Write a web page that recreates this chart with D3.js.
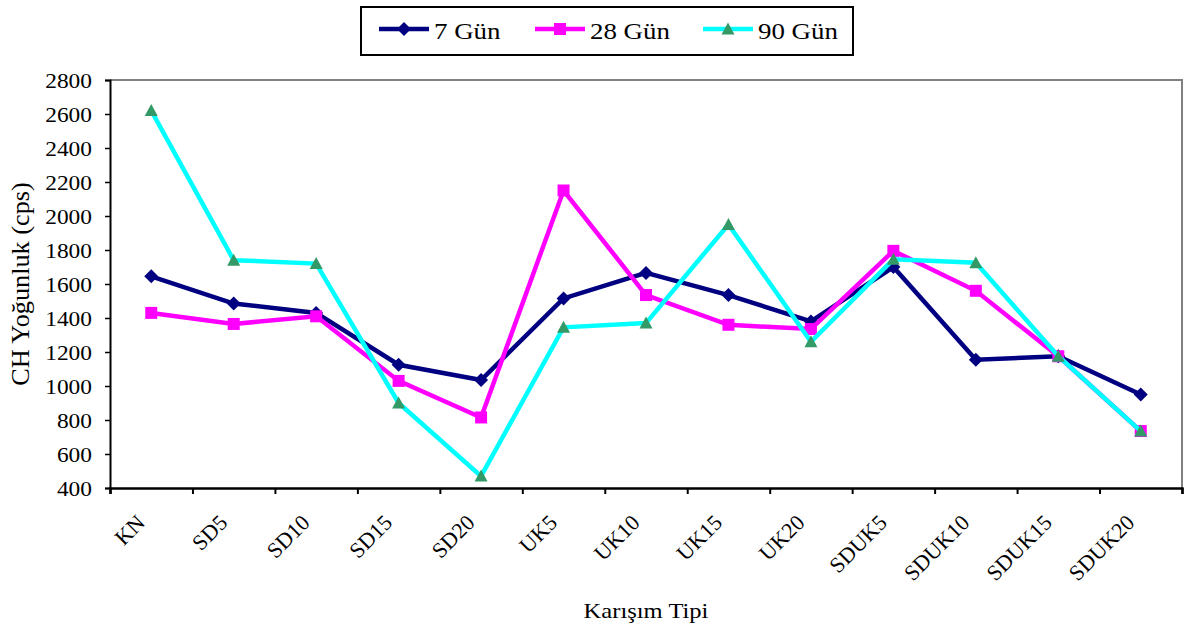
<!DOCTYPE html>
<html>
<head>
<meta charset="utf-8">
<script src="https://cdn.jsdelivr.net/npm/d3@7"></script>
<style>
  html, body { margin: 0; padding: 0; background: #fff; }
  svg { display: block; }
  svg text { font-family: "Liberation Serif", "Times New Roman", "DejaVu Serif", serif !important; fill: #000; }
</style>
</head>
<body>
<svg id="chart" width="1184" height="631"></svg>
<script>
// Mix types (x categories)
const categories = ["KN", "SD5", "SD10", "SD15", "SD20", "UK5", "UK10", "UK15", "UK20",
                    "SDUK5", "SDUK10", "SDUK15", "SDUK20"];
// CH intensity (cps) by curing age
const gun7  = [1645, 1485, 1430, 1125, 1035, 1515, 1665, 1535, 1380, 1700, 1155, 1175, 950];
const gun28 = [1430, 1365, 1410, 1030, 815, 2150, 1535, 1360, 1335, 1795, 1560, 1175, 735];
const gun90 = [2620, 1740, 1720, 900, 470, 1345, 1370, 1950, 1260, 1745, 1725, 1175, 735];
const seriesNames = ["7 Gün", "28 Gün", "90 Gün"];
const yTicks = [400, 600, 800, 1000, 1200, 1400, 1600, 1800, 2000, 2200, 2400, 2600, 2800];

const series = [
  { name: seriesNames[0], values: gun7,  line: "#000080", fill: "#000080", shape: "diamond" },
  { name: seriesNames[1], values: gun28, line: "#FF00FF", fill: "#FF00FF", shape: "square" },
  { name: seriesNames[2], values: gun90, line: "#00FFFF", fill: "#339966", shape: "triangle" }
];

const svg = d3.select("#chart");
const plot = { left: 110, right: 1182, top: 80, bottom: 488 };
const TX = 1.17; // horizontal text widening
const FONT = "'Liberation Serif', 'Times New Roman', serif";

const x = d3.scaleBand().domain(categories).range([plot.left, plot.right]);
const y = d3.scaleLinear().domain([400, 2800]).range([plot.bottom, plot.top]);
const xEdge = d3.scaleLinear().domain([0, categories.length]).range([plot.left, plot.right]);

// plot area frame (top and right in grey)
svg.append("path")
  .attr("d", `M${plot.left},${plot.top}H${plot.right}V${plot.bottom}`)
  .attr("fill", "none").attr("stroke", "#808080").attr("stroke-width", 2);

// y axis
const yAxis = svg.append("g")
  .attr("transform", `translate(${plot.left},0)`)
  .call(d3.axisLeft(y).tickValues(yTicks).tickSize(5).tickFormat(d3.format("d")));
yAxis.attr("font-family", null);
yAxis.select(".domain").attr("stroke", "#000").attr("stroke-width", 2);
yAxis.selectAll(".tick line").attr("stroke", "#000").attr("stroke-width", 1.5);
yAxis.selectAll(".tick text").remove();
yAxis.selectAll(".tick").append("text")
  .attr("text-anchor", "end")
  .attr("transform", `translate(-18,7) scale(${TX},1)`)
  .style("font-family", FONT)
  .style("font-size", "20px")
  .text(d => d);

// x axis: ticks on category boundaries
const xAxis = svg.append("g")
  .attr("transform", `translate(0,${plot.bottom})`)
  .call(d3.axisBottom(xEdge).tickValues(d3.range(categories.length + 1)).tickSize(6).tickFormat(""));
xAxis.select(".domain").attr("stroke", "#000").attr("stroke-width", 2.5);
xAxis.selectAll(".tick line").attr("stroke", "#000").attr("stroke-width", 2);

// category labels, rotated
const xLab = svg.append("g")
  .attr("transform", `translate(0,${plot.bottom})`)
  .call(d3.axisBottom(x).tickSize(0).tickFormat(""));
xLab.attr("font-family", null);
xLab.select(".domain").remove();
xLab.selectAll(".tick").append("text")
  .attr("text-anchor", "end")
  .attr("transform", "translate(-5,36) rotate(-45)")
  .style("font-family", FONT)
  .style("font-size", "22px")
  .text(d => d);

// axis titles
svg.append("text")
  .attr("text-anchor", "middle")
  .attr("transform", `translate(${(plot.left + plot.right) / 2},618) scale(${TX},1)`)
  .style("font-family", FONT)
  .style("font-size", "21px")
  .text("Karışım Tipi");

svg.append("text")
  .attr("text-anchor", "middle")
  .attr("transform", `translate(29,284) rotate(-90) scale(1.05,1)`)
  .style("font-family", FONT)
  .style("font-size", "25px")
  .text("CH Yoğunluk (cps)");

// markers
function marker(sel, shape, fill) {
  if (shape === "diamond") {
    sel.append("path").attr("d", "M0,-7L7,0L0,7L-7,0Z").attr("fill", fill);
  } else if (shape === "square") {
    sel.append("rect").attr("x", -6).attr("y", -6).attr("width", 12).attr("height", 12).attr("fill", fill);
  } else {
    sel.append("path").attr("d", "M0,-6.5L6.5,5.5L-6.5,5.5Z").attr("fill", fill);
  }
}

const line = d3.line()
  .x((d, i) => x(categories[i]) + x.bandwidth() / 2)
  .y(d => y(d));

series.forEach(s => {
  const g = svg.append("g");
  g.append("path")
    .attr("d", line(s.values))
    .attr("fill", "none")
    .attr("stroke", s.line)
    .attr("stroke-width", 4.5)
    .attr("stroke-linejoin", "miter");
  g.selectAll("g.pt").data(s.values).join("g")
    .attr("class", "pt")
    .attr("transform", (d, i) => `translate(${x(categories[i]) + x.bandwidth() / 2},${y(d)})`)
    .each(function () { marker(d3.select(this), s.shape, s.fill); });
});

// legend
const legend = svg.append("g");
legend.append("rect")
  .attr("x", 361).attr("y", 7).attr("width", 492).attr("height", 48)
  .attr("fill", "#fff").attr("stroke", "#000").attr("stroke-width", 2);
const legendX = [379, 535, 703];
series.forEach((s, i) => {
  const g = legend.append("g").attr("transform", `translate(${legendX[i]},29)`);
  g.append("line").attr("x1", 0).attr("x2", 50).attr("y1", 0).attr("y2", 0)
    .attr("stroke", s.line).attr("stroke-width", 4.5);
  const m = g.append("g").attr("transform", "translate(25,0)");
  marker(m, s.shape, s.fill);
  g.append("text")
    .attr("transform", `translate(55,10) scale(${TX},1)`)
    .style("font-family", FONT)
    .style("font-size", "23px")
    .text(s.name);
});
</script>
</body>
</html>
